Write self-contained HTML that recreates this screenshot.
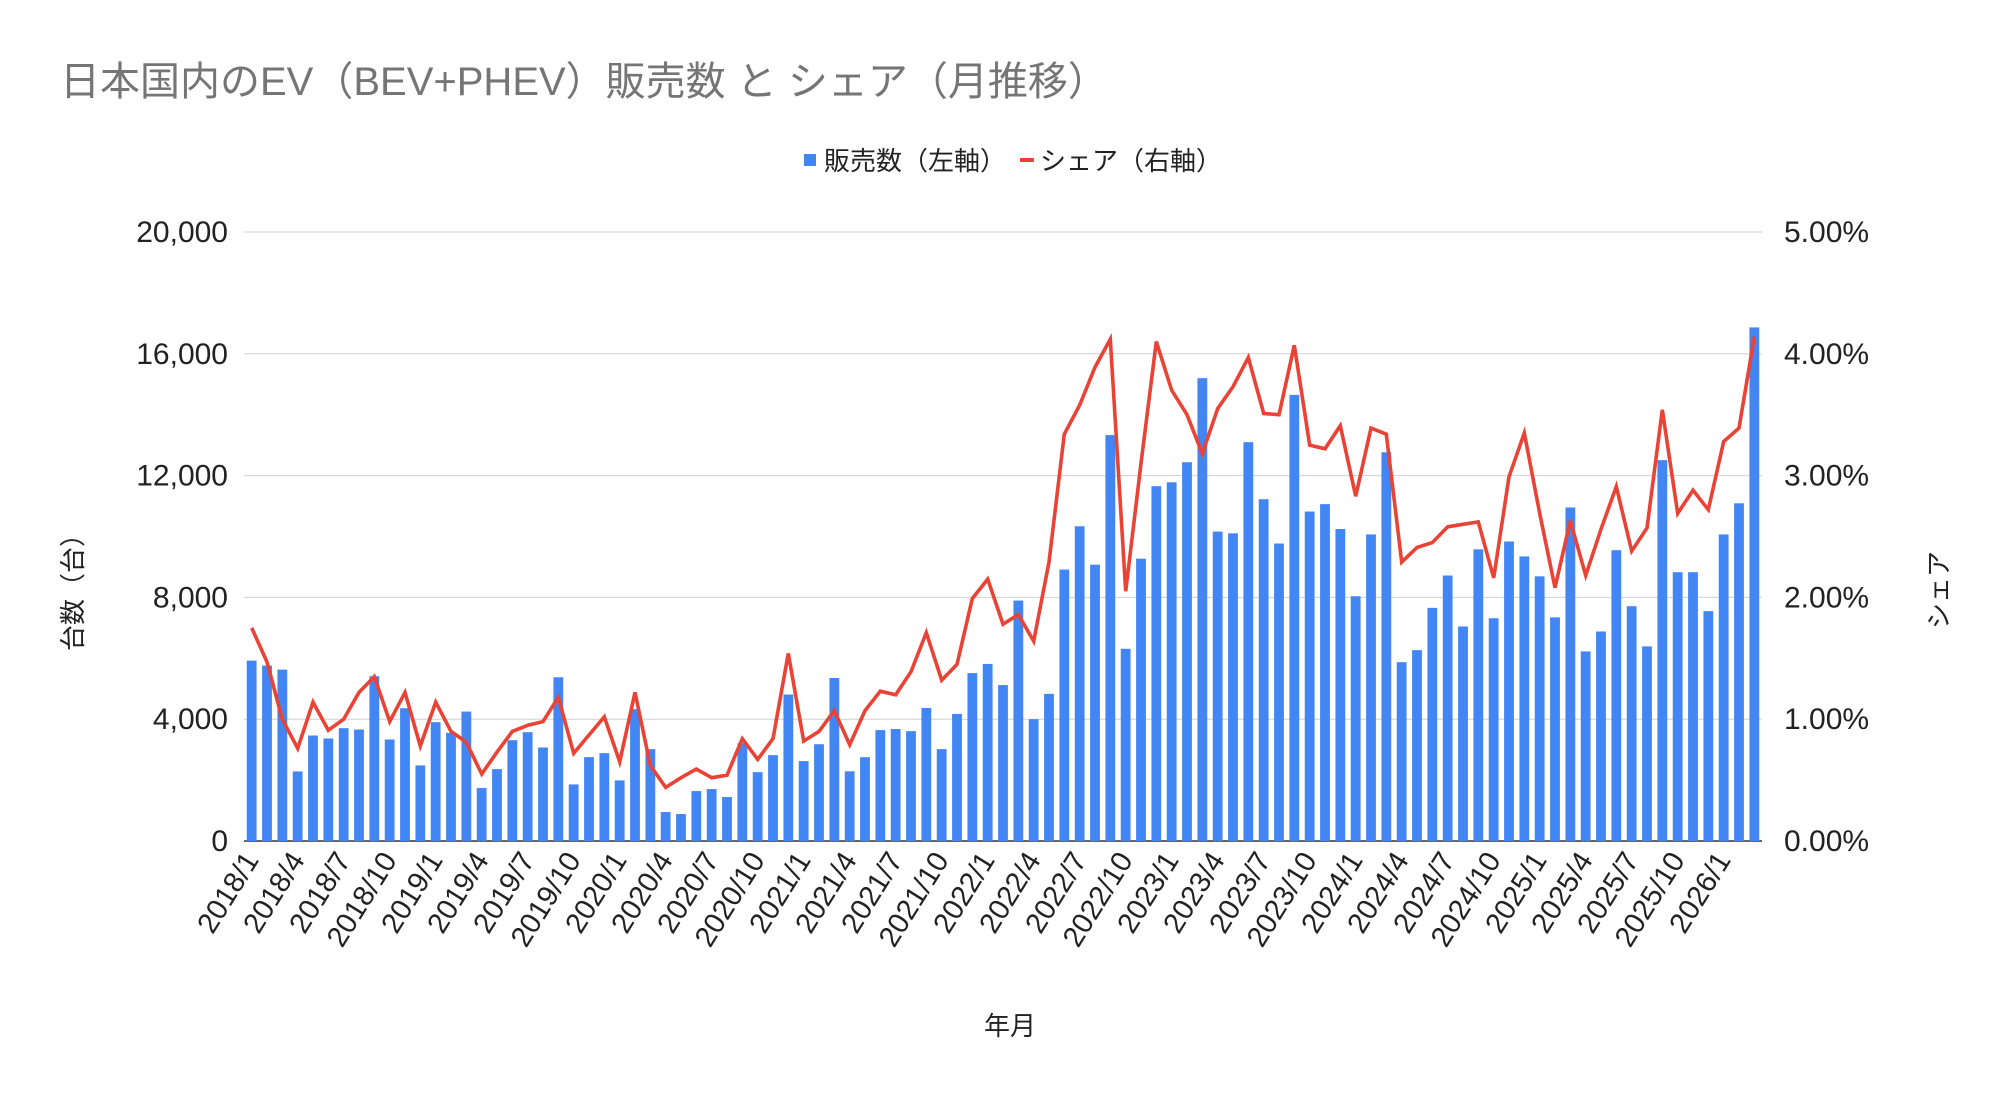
<!DOCTYPE html>
<html><head><meta charset="utf-8">
<style>
html,body{margin:0;padding:0;background:#fff;}
svg{display:block;font-family:"Liberation Sans","Noto Sans CJK JP",sans-serif;}
</style></head>
<body>
<svg id="chart" width="2002" height="1093" viewBox="0 0 2002 1093" xmlns="http://www.w3.org/2000/svg">
<rect width="2002" height="1093" fill="#fff"/>
<text x="60" y="95" font-size="40" fill="#757575">日本国内のEV（BEV+PHEV）販売数 と シェア（月推移）</text>
<g>
<g><rect x="804" y="154" width="12" height="12" fill="#4285f4"/><text x="824" y="170" font-size="26" fill="#222">販売数（左軸）</text></g>
<g><rect x="1020" y="158" width="14" height="4" fill="#ea4335"/><text x="1040" y="170" font-size="26" fill="#222">シェア（右軸）</text></g>
</g>
<g id="grid"></g>
<g id="bars"></g>
<g id="line"></g>
<g id="ylabels"></g>
<g id="xlabels"></g>
<text transform="translate(82,586) rotate(-90)" text-anchor="middle" font-size="26" fill="#222">台数（台）</text>
<text transform="translate(1948,590) rotate(-90)" text-anchor="middle" font-size="26" fill="#222">シェア</text>
<text x="1010" y="1035" text-anchor="middle" font-size="26" fill="#222">年月</text>
</svg>
<script>
const sales = [5923,5760,5628,2284,3464,3366,3705,3661,5410,3333,4361,2481,
3902,3552,4251,1738,2361,3311,3574,3071,5377,1858,2754,2885,
1989,4328,3016,951,885,1639,1705,1443,3213,2262,2820,4809,
2624,3179,5353,2289,2751,3642,3676,3607,4370,3017,4173,5514,
5815,5121,7896,4000,4832,8913,10335,9075,13330,6312,9272,11653,
11780,12439,15200,10162,10104,13098,11225,9769,14650,10820,11063,10245,
8038,10068,12766,5872,6267,7657,8719,7044,9578,7316,9837,9346,
8692,7343,10954,6226,6880,9550,7711,6390,12507,8828,8828,7548,
10068,11090,16866];
const share = [1.75,1.47,1.0,0.76,1.14,0.91,1.0,1.22,1.35,0.98,1.22,0.78,
1.14,0.9,0.81,0.55,0.73,0.9,0.95,0.98,1.18,0.72,0.87,1.02,
0.65,1.22,0.62,0.44,0.52,0.59,0.52,0.54,0.84,0.67,0.84,1.54,
0.82,0.9,1.07,0.79,1.07,1.23,1.2,1.39,1.71,1.32,1.45,1.99,
2.15,1.78,1.86,1.64,2.29,3.34,3.58,3.89,4.12,2.05,3.1,4.1,
3.7,3.5,3.18,3.55,3.73,3.97,3.51,3.5,4.07,3.25,3.22,3.41,
2.83,3.39,3.34,2.29,2.41,2.45,2.58,2.6,2.62,2.16,2.99,3.35,
2.69,2.08,2.63,2.18,2.56,2.91,2.38,2.57,3.54,2.69,2.88,2.72,
3.28,3.39,4.14];
const leftTicks = [0,4000,8000,12000,16000,20000];
const rightTicks = ["0.00%","1.00%","2.00%","3.00%","4.00%","5.00%"];
const startYear = 2018, startMonth = 1;

const NS="http://www.w3.org/2000/svg";
const L=244, R=1762, T=232, B=841;
const n=sales.length, step=(R-L)/n;
const xC=i=>L+step*(i+0.5);
const yL=v=>B-(v/20000)*(B-T);
const yR=v=>B-(v/5)*(B-T);
function mk(tag,attrs,parent){const e=document.createElementNS(NS,tag);for(const k in attrs)e.setAttribute(k,attrs[k]);parent.appendChild(e);return e;}
const grid=document.getElementById('grid'),bars=document.getElementById('bars'),line=document.getElementById('line'),yl=document.getElementById('ylabels'),xl=document.getElementById('xlabels');
leftTicks.forEach((t,i)=>{
  const y=yL(t);
  const g=mk('line',{x1:L,x2:R,y1:y,y2:y,stroke:i===0?'#333':'#d0d0d0','stroke-width':i===0?1.5:1},grid);
  
  
  const a=mk('text',{x:228,y:y+10,'text-anchor':'end','font-size':30,fill:'#222'},yl);
  a.textContent=t.toLocaleString('en-US');
  
  
  const b=mk('text',{x:1784,y:y+10,'font-size':30,fill:'#222'},yl);
  b.textContent=rightTicks[i];
  
  
});
const bw=9.8;
sales.forEach((v,i)=>{
  const r=mk('rect',{x:xC(i)-bw/2,y:yL(v),width:bw,height:B-yL(v),fill:'#4285f4'},bars);
  
  
});
const pts=share.map((v,i)=>xC(i).toFixed(1)+','+yR(v).toFixed(1)).join(' ');
const pl=mk('polyline',{points:pts,fill:'none',stroke:'#ea4335','stroke-width':3.6,'stroke-linejoin':'miter'},line);


for(let i=0;i<n;i+=3){
  const m=startMonth-1+i, yr=startYear+Math.floor(m/12), mo=m%12+1;
  const x=xC(i)+8, y=860;
  const t=mk('text',{transform:`translate(${x},${y}) rotate(-58)`,'text-anchor':'end','font-size':29,fill:'#222'},xl);
  t.textContent=yr+'/'+mo;
  
  
}
</script>
</body></html>
